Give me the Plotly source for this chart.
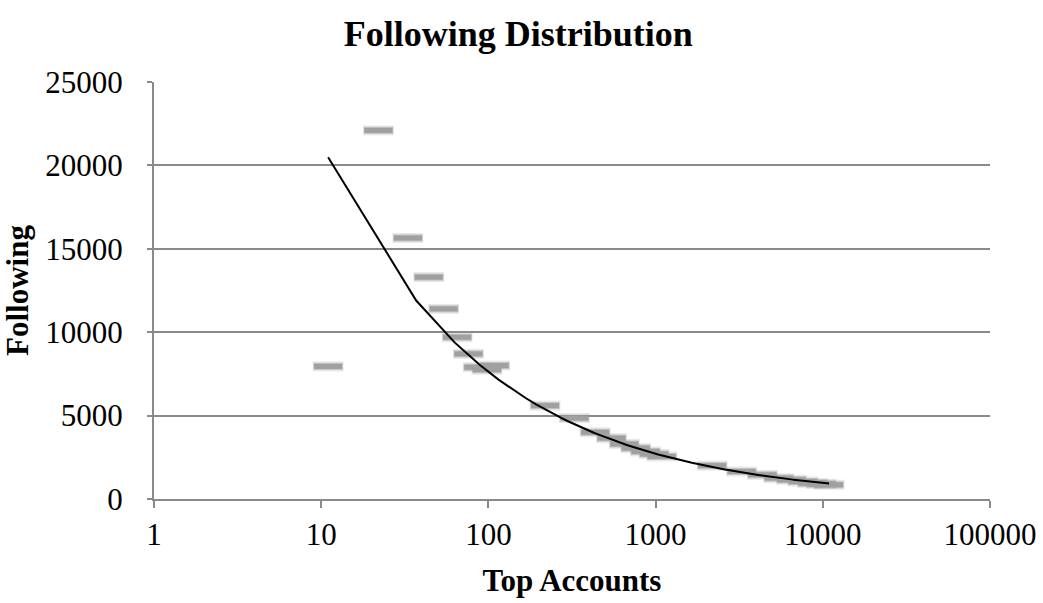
import numpy as np
import plotly.graph_objects as go

# Top-N account buckets and the number followed at each bucket
top_accounts = [11, 22, 33, 44, 54, 65, 76, 87, 98, 109,
                218, 327, 435, 545, 650, 760, 870, 980, 1090,
                2180, 3270, 4350, 5450, 6500, 7600, 8700, 9800, 10900]
following = [7950, 22100, 15650, 13300, 11400, 9700, 8700, 7900, 7750, 8000,
             5600, 4850, 4000, 3650, 3300, 3050, 2850, 2700, 2550,
             2000, 1650, 1450, 1250, 1150, 1050, 950, 900, 850]

x_tick_vals = [1, 10, 100, 1000, 10000, 100000]
x_tick_text = ["1", "10", "100", "1000", "10000", "100000"]
y_tick_vals = [0, 5000, 10000, 15000, 20000, 25000]

# Power-law trendline fitted in log-log space, sampled evenly in linear x
xa = np.array(top_accounts, dtype=float)
ya = np.array(following, dtype=float)
b, log_a = np.polyfit(np.log(xa), np.log(ya), 1)
trend_x = np.linspace(xa.min(), xa.max(), 420)
trend_y = np.exp(log_a) * trend_x ** b

FONT = "Liberation Serif, Times New Roman, serif"
GRID = "#8a8a8a"

fig = go.Figure()

# soft halo under each dash marker
fig.add_trace(go.Scatter(
    x=top_accounts, y=following, mode="markers",
    marker=dict(symbol="line-ew", size=22,
                line=dict(width=10, color="rgba(150,150,150,0.22)")),
    hoverinfo="skip", showlegend=False))
fig.add_trace(go.Scatter(
    x=top_accounts, y=following, mode="markers",
    marker=dict(symbol="line-ew", size=21,
                line=dict(width=7, color="rgba(150,150,150,0.45)")),
    hoverinfo="skip", showlegend=False))
fig.add_trace(go.Scatter(
    x=top_accounts, y=following, mode="markers",
    marker=dict(symbol="line-ew", size=20,
                line=dict(width=5, color="#a0a0a0")),
    name="Following", showlegend=False))

fig.add_trace(go.Scatter(
    x=trend_x, y=trend_y, mode="lines",
    line=dict(color="black", width=2),
    name="Power trend", showlegend=False))

fig.update_layout(
    width=1043, height=603,
    paper_bgcolor="white", plot_bgcolor="white",
    margin=dict(l=154, r=53, t=82, b=104),
    font=dict(family=FONT, color="black", size=31),
    title=dict(text="<b>Following Distribution</b>", x=0.497, xanchor="center",
               y=1 - 33 / 603, yanchor="middle", yref="container",
               font=dict(size=36, family=FONT, color="black")),
    xaxis=dict(type="log", range=[0, 5], automargin=False,
               tickvals=x_tick_vals, ticktext=x_tick_text,
               showgrid=False, zeroline=False,
               showline=True, linecolor=GRID, linewidth=2,
               ticks="outside", ticklen=7, tickcolor=GRID, tickwidth=2,
               tickfont=dict(size=31, family=FONT),
               title=dict(text="<b>Top Accounts</b>", standoff=18,
                          font=dict(size=31, family=FONT))),
    yaxis=dict(range=[0, 25000], tickvals=y_tick_vals, tickformat="d",
               automargin=False,
               showgrid=True, gridcolor=GRID, gridwidth=2,
               zeroline=False,
               showline=True, linecolor=GRID, linewidth=2,
               ticks="outside", ticklen=5, tickcolor=GRID, tickwidth=2,
               ticklabelstandoff=18,
               tickfont=dict(size=31, family=FONT),
               title=dict(text="<b>Following</b>", standoff=8,
                          font=dict(size=31, family=FONT))),
)

fig.write_html("out.html")
